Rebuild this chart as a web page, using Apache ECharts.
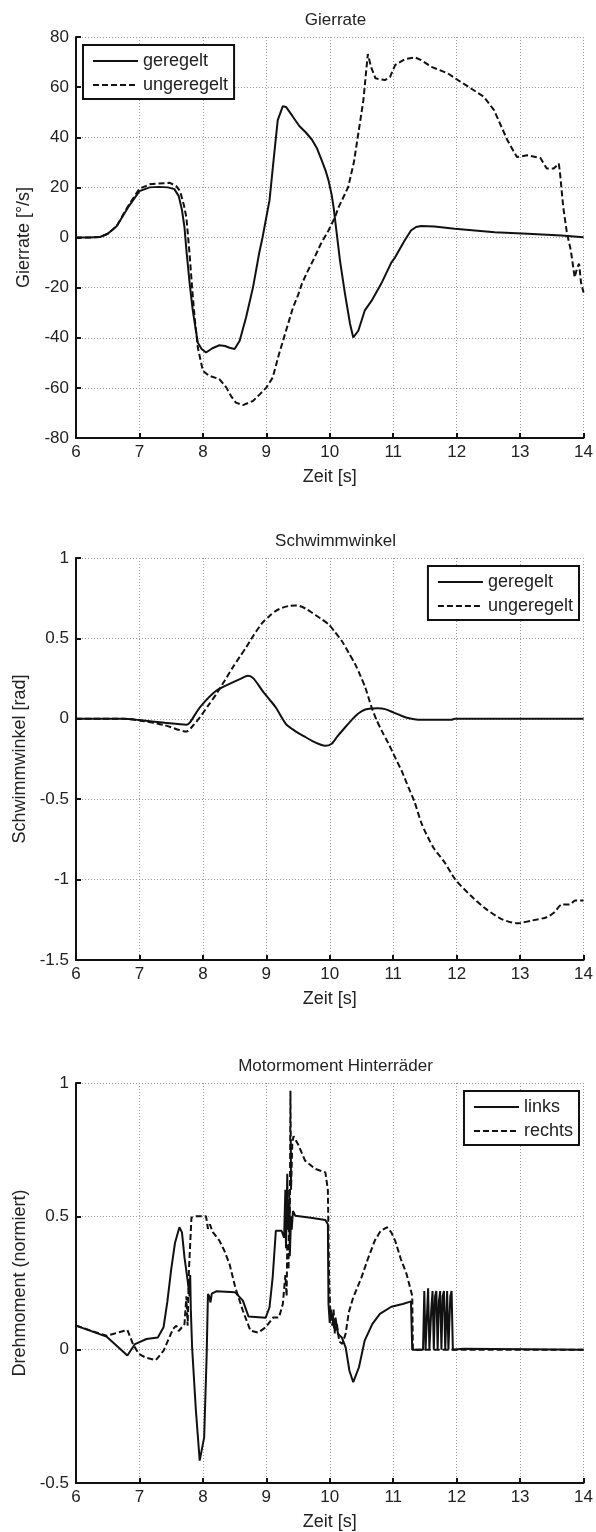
<!DOCTYPE html>
<html><head><meta charset="utf-8">
<script src="https://cdn.jsdelivr.net/npm/echarts@6/dist/echarts.min.js"></script>
<style>html,body{margin:0;padding:0;background:#fff}#c{width:596px;height:1532px}</style>
</head><body><div id="c"></div>
<script>
// ---------- Plot 1: Gierrate ----------
const gierT_geregelt = [6,6.2,6.38,6.5,6.64,6.82,7.0,7.16,7.3,7.45,7.55,7.62,7.67,7.71,7.74,7.79,7.84,7.92,7.98,8.05,8.15,8.26,8.35,8.42,8.5,8.58,8.68,8.79,8.89,8.94,9.0,9.05,9.13,9.18,9.26,9.31,9.41,9.52,9.62,9.72,9.8,9.87,9.93,9.98,10.03,10.06,10.11,10.16,10.24,10.32,10.37,10.45,10.55,10.66,10.81,10.97,11.03,11.18,11.28,11.36,11.44,11.65,11.97,12.6,13.12,13.65,14];
const gierV_geregelt = [0,0,0.2,1.5,4.5,12,18.5,20,20.2,20,19.3,16.5,11,4,-5,-18,-29,-42,-44.5,-45.9,-44.2,-43,-43.3,-44,-44.5,-41.2,-31.9,-19.9,-5.9,0,8.1,14.8,34.8,46.8,52.4,52.1,48.5,44.5,42,39,35.5,31,27,22.8,17,12.1,1.5,-9,-22.5,-34.5,-39.9,-37.2,-29.2,-25.2,-18.5,-10,-7.9,-1.2,2.8,4.2,4.6,4.4,3.5,2.1,1.5,0.8,0.1];
const gierT_ungeregelt = [6,6.2,6.38,6.5,6.64,6.82,7.0,7.16,7.3,7.48,7.58,7.64,7.7,7.74,7.79,7.83,7.87,7.92,8.0,8.1,8.26,8.37,8.45,8.52,8.63,8.79,8.9,9.0,9.1,9.2,9.31,9.42,9.5,9.56,9.65,9.75,9.86,9.98,10.08,10.14,10.29,10.38,10.45,10.53,10.57,10.6,10.65,10.72,10.87,10.95,11.03,11.18,11.34,11.44,11.6,11.86,12.02,12.17,12.43,12.59,12.8,12.95,13.11,13.32,13.42,13.53,13.61,13.63,13.68,13.74,13.8,13.86,13.9,13.93,13.96,14];
const gierV_ungeregelt = [0,0,0.2,1.5,4.5,12.5,19.5,21.2,21.5,21.8,20.5,18.5,13,8,-6.5,-20,-31.9,-43.9,-53.2,-55.2,-56.5,-59.9,-63.5,-65.9,-66.9,-65.2,-62.5,-59.9,-55.9,-46.5,-37.2,-28,-23,-18.5,-13.5,-8.5,-2.5,2.8,8,12.1,20.1,30,41.5,54.8,65.5,73.2,68.1,63.5,62.8,64.1,68.8,71.1,71.9,70.8,68.1,65.5,62.8,60.4,56.1,50.8,38.8,32.1,32.8,31.7,27.5,27.5,29.5,25.5,12.1,1.5,-5.2,-15.9,-12,-10.5,-18,-21.9];

// ---------- Plot 2: Schwimmwinkel ----------
const swT_geregelt = [6,6.74,7.0,7.4,7.74,7.8,7.95,8.21,8.47,8.6,8.71,8.8,8.94,9.05,9.15,9.31,9.45,9.6,9.72,9.85,9.93,10.03,10.12,10.24,10.35,10.45,10.56,10.66,10.76,10.87,11.0,11.13,11.25,11.39,11.92,11.97,14];
const swV_geregelt = [0,0,-0.008,-0.025,-0.037,-0.02,0.07,0.174,0.226,0.25,0.267,0.25,0.174,0.12,0.07,-0.033,-0.075,-0.11,-0.137,-0.16,-0.168,-0.155,-0.11,-0.054,-0.005,0.033,0.058,0.064,0.065,0.06,0.04,0.019,0.003,-0.006,-0.006,0,0];
const swT_ungeregelt = [6,6.74,7.0,7.4,7.74,7.85,7.95,8.08,8.21,8.34,8.47,8.58,8.68,8.8,8.94,9.05,9.15,9.25,9.36,9.46,9.52,9.62,9.72,9.85,9.98,10.08,10.19,10.3,10.4,10.48,10.56,10.66,10.74,10.82,10.92,11.03,11.14,11.24,11.33,11.45,11.63,11.81,11.98,12.22,12.46,12.7,12.94,13.0,13.18,13.42,13.54,13.66,13.78,13.87,14];
const swV_ungeregelt = [0,0,-0.01,-0.04,-0.079,-0.04,0.008,0.08,0.153,0.235,0.319,0.385,0.443,0.52,0.598,0.64,0.671,0.69,0.702,0.705,0.702,0.685,0.66,0.625,0.588,0.54,0.484,0.41,0.34,0.27,0.194,0.07,-0.01,-0.075,-0.15,-0.24,-0.33,-0.427,-0.51,-0.654,-0.799,-0.893,-1.0,-1.099,-1.182,-1.244,-1.271,-1.27,-1.255,-1.234,-1.203,-1.155,-1.155,-1.13,-1.13];

// ---------- Plot 3: Motormoment Hinterräder ----------
const mmT_links = [6,6.48,6.81,6.93,7.11,7.29,7.38,7.44,7.5,7.56,7.63,7.67,7.71,7.76,7.79,7.8,7.81,7.83,7.89,7.95,8.02,8.06,8.08,8.1,8.12,8.14,8.21,8.51,8.63,8.72,8.99,9.05,9.1,9.15,9.24,9.28,9.3,9.31,9.33,9.34,9.36,9.37,9.39,9.4,9.42,9.456,9.7,9.93,9.97,9.98,10.0,10.02,10.04,10.07,10.09,10.13,10.19,10.25,10.31,10.37,10.46,10.55,10.67,10.79,10.97,11.15,11.28,11.3,11.47,11.49,11.51,11.55,11.57,11.6,11.62,11.64,11.66,11.68,11.7,11.72,11.74,11.76,11.78,11.8,11.82,11.85,11.87,11.9,11.92,11.94,12.1,12.12,14];
const mmV_links = [0.09,0.049,-0.022,0.021,0.04,0.046,0.084,0.18,0.3,0.4,0.459,0.44,0.346,0.259,0.2,0.28,0.15,0.009,-0.229,-0.416,-0.329,-0.016,0.209,0.2,0.177,0.21,0.219,0.215,0.184,0.124,0.12,0.159,0.271,0.446,0.446,0.42,0.6,0.38,0.66,0.45,0.55,0.35,0.5,0.45,0.52,0.502,0.495,0.486,0.47,0.17,0.1,0.15,0.121,0.08,0.12,0.059,0.046,0.009,-0.079,-0.122,-0.066,0.034,0.096,0.134,0.161,0.171,0.181,0,0,0.22,0,0.23,0,0.15,0.22,0,0.2,0.22,0,0.18,0.22,0,0.2,0.22,0,0.22,0,0.2,0.22,0,0.003,0,0];
const mmT_rechts = [6,6.48,6.6,6.81,6.9,6.99,7.1,7.26,7.38,7.53,7.58,7.62,7.71,7.74,7.76,7.78,7.82,7.9,8.05,8.08,8.11,8.16,8.26,8.34,8.42,8.51,8.63,8.75,8.87,8.99,9.11,9.2,9.26,9.3,9.32,9.33,9.35,9.36,9.37,9.38,9.39,9.41,9.43,9.456,9.5,9.61,9.77,9.93,9.97,9.99,10.01,10.04,10.06,10.08,10.11,10.15,10.2,10.25,10.3,10.37,10.43,10.5,10.6,10.71,10.8,10.9,10.97,11.03,11.12,11.21,11.3,11.31,14];
const mmV_rechts = [0.09,0.052,0.06,0.074,0.02,-0.016,-0.03,-0.039,-0.004,0.078,0.09,0.07,0.096,0.2,0.09,0.3,0.496,0.5,0.5,0.453,0.47,0.44,0.409,0.37,0.321,0.234,0.146,0.071,0.064,0.084,0.121,0.121,0.171,0.28,0.2,0.4,0.3,0.6,0.45,0.971,0.6,0.78,0.8,0.8,0.77,0.709,0.678,0.665,0.6,0.259,0.13,0.09,0.15,0.06,0.1,0.03,0.022,0.06,0.14,0.196,0.23,0.271,0.34,0.409,0.445,0.459,0.44,0.409,0.34,0.284,0.202,0,0];

// ---------- ticks / labels ----------
const xTicks = {min: 6, max: 14, interval: 1};
const yTicks = [
  {min: -80, max: 80, interval: 20},
  {min: -1.5, max: 1, interval: 0.5},
  {min: -0.5, max: 1, interval: 0.5}
];
const titles = ['Gierrate', 'Schwimmwinkel', 'Motormoment Hinterräder'];
const yNames = ['Gierrate [°/s]', 'Schwimmwinkel [rad]', 'Drehmoment (normiert)'];
const xName = 'Zeit [s]';

const zip = (t, v) => t.map((x, i) => [x, v[i]]);
const FONT = "'Liberation Sans', Arial, sans-serif";
const TXT = '#222';

const grids = [
  {left: 76, right: 11, top: 37, height: 401},
  {left: 76, right: 11, top: 558, height: 402},
  {left: 76, right: 11, top: 1083, height: 400}
];

function xAxis(i) {
  return {
    type: 'value', gridIndex: i, min: xTicks.min, max: xTicks.max, interval: xTicks.interval,
    name: xName, nameLocation: 'middle', nameGap: 30,
    nameTextStyle: {fontFamily: FONT, fontSize: 18, color: TXT},
    axisLine: {show: true, onZero: false, lineStyle: {color: '#111', width: 2}},
    axisTick: {show: true, inside: true, length: 5, lineStyle: {color: '#111', width: 2}},
    axisLabel: {fontFamily: FONT, fontSize: 17, color: TXT, margin: 6, showMinLabel: true, showMaxLabel: true, hideOverlap: false},
    splitLine: {show: true, lineStyle: {color: '#9a9a9a', width: 1, type: [1, 2]}}
  };
}
function yAxis(i) {
  return {
    type: 'value', gridIndex: i, min: yTicks[i].min, max: yTicks[i].max, interval: yTicks[i].interval,
    name: yNames[i], nameLocation: 'middle', nameGap: 42, nameRotate: 90,
    nameTextStyle: {fontFamily: FONT, fontSize: 18, color: TXT},
    axisLine: {show: true, onZero: false, lineStyle: {color: '#111', width: 2}},
    axisTick: {show: true, inside: true, length: 5, lineStyle: {color: '#111', width: 2}},
    axisLabel: {fontFamily: FONT, fontSize: 17, color: TXT, margin: 7, showMinLabel: true, showMaxLabel: true, hideOverlap: false},
    splitLine: {show: true, lineStyle: {color: '#9a9a9a', width: 1, type: [1, 2]}}
  };
}
function line(name, i, data, dashed, smooth) {
  return {
    name, type: 'line', xAxisIndex: i, yAxisIndex: i, data,
    symbol: 'none', showSymbol: false, smooth: smooth || false, animation: false,
    lineStyle: {color: '#111', width: 2, type: dashed ? [6, 3] : 'solid'},
    itemStyle: {color: '#111'}
  };
}
function legend(names, pos) {
  return Object.assign({
    data: names, orient: 'vertical', backgroundColor: '#fff',
    borderColor: '#111', borderWidth: 2, borderRadius: 0, padding: [7, 6, 5, 9],
    itemWidth: 45, itemHeight: 14, itemGap: 6, selectedMode: false,
    itemStyle: {opacity: 0},
    textStyle: {fontFamily: FONT, fontSize: 18, color: TXT, lineHeight: 18}
  }, pos);
}

const titleTops = [7, 528, 1053];
const option = {
  animation: false,
  backgroundColor: '#fff',
  title: titles.map((t, i) => ({
    text: t, left: 330.5, top: titleTops[i], textAlign: 'center',
    textStyle: {fontFamily: FONT, fontSize: 17, fontWeight: 'normal', color: TXT}
  })),
  grid: grids,
  xAxis: [0, 1, 2].map(xAxis),
  yAxis: [0, 1, 2].map(yAxis),
  legend: [
    legend(['geregelt', 'ungeregelt'], {left: 83, top: 45}),
    legend(['geregelt', 'ungeregelt'], {right: 17, top: 566}),
    legend(['links', 'rechts'], {right: 17, top: 1091})
  ],
  series: [
    line('geregelt', 0, zip(gierT_geregelt, gierV_geregelt), false),
    line('ungeregelt', 0, zip(gierT_ungeregelt, gierV_ungeregelt), true),
    line('geregelt', 1, zip(swT_geregelt, swV_geregelt), false, 0.25),
    line('ungeregelt', 1, zip(swT_ungeregelt, swV_ungeregelt), true, 0.25),
    line('links', 2, zip(mmT_links, mmV_links), false),
    line('rechts', 2, zip(mmT_rechts, mmV_rechts), true)
  ]
};
const chart = echarts.init(document.getElementById('c'), null, {renderer: 'canvas'});
chart.setOption(option);
</script></body></html>
